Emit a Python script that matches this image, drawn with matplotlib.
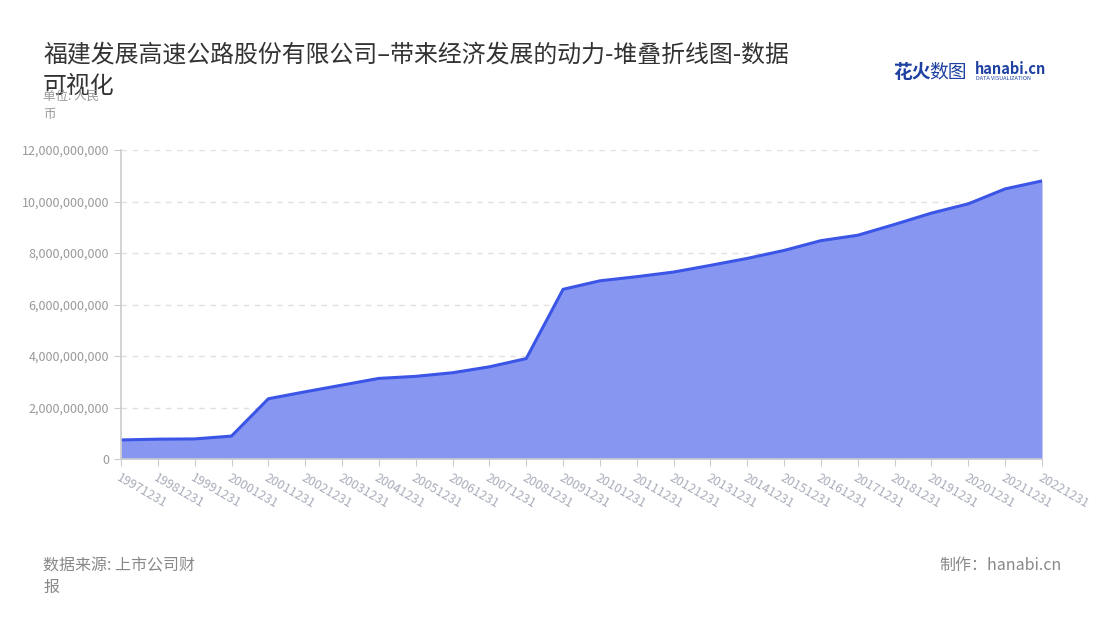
import numpy as np
import matplotlib
matplotlib.use("Agg")
import matplotlib.pyplot as plt
from matplotlib.ticker import FuncFormatter

plt.rcParams["font.family"] = ["Noto Sans CJK SC", "DejaVu Sans"]

#%% Data
dates = ["19971231", "19981231", "19991231", "20001231", "20011231", "20021231",
         "20031231", "20041231", "20051231", "20061231", "20071231", "20081231",
         "20091231", "20101231", "20111231", "20121231", "20131231", "20141231",
         "20151231", "20161231", "20171231", "20181231", "20191231", "20201231",
         "20211231", "20221231"]
values = [0.74e9, 0.77e9, 0.78e9, 0.89e9, 2.34e9, 2.61e9,
          2.87e9, 3.13e9, 3.21e9, 3.35e9, 3.58e9, 3.90e9,
          6.59e9, 6.92e9, 7.08e9, 7.26e9, 7.52e9, 7.79e9,
          8.10e9, 8.48e9, 8.69e9, 9.11e9, 9.55e9, 9.91e9,
          10.49e9, 10.80e9]
yticks = [0, 2e9, 4e9, 6e9, 8e9, 10e9, 12e9]

title = "福建发展高速公路股份有限公司–带来经济发展的动力-堆叠折线图-数据\n可视化"

#%% Figure
fig = plt.figure(figsize=(11, 6.2), dpi=100)
ax = fig.add_axes([121/1100, 1-459/620, (1042-121)/1100, (459-150)/620])

x = np.arange(len(dates))
ax.fill_between(x, values, 0, color="#8797f1", lw=0)
ax.plot(x, values, color="#3b55e6", lw=2.2, solid_joinstyle="round")

ax.set_xlim(0, len(dates) - 1)
ax.set_ylim(0, 12e9)
ax.set_yticks(yticks)
ax.yaxis.set_major_formatter(FuncFormatter(lambda v, p: f"{int(v):,}"))
ax.set_xticks(x)
ax.set_xticklabels(dates, rotation=-30, ha="left", va="top", rotation_mode="anchor")

ax.grid(axis="y", color="#e0e0e0", ls=(0, (4, 4)), lw=1)
ax.set_axisbelow(True)
for s in ["top", "right"]:
    ax.spines[s].set_visible(False)
ax.spines["left"].set_color("#cccccc")
ax.spines["bottom"].set_color("#cccccc")
ax.spines["left"].set_linewidth(1.2)
ax.spines["bottom"].set_linewidth(1.2)
ax.tick_params(axis="y", colors="#cccccc", labelcolor="#999999", labelsize=9, length=5)
ax.tick_params(axis="x", colors="#cccccc", labelcolor="#a9adba", labelsize=9, length=5, pad=4)

#%% Text
fig.text(43/1100, 1-44/620, title, fontsize=17.2, color="#333333", va="top", ha="left", linespacing=1.45)
fig.text(43/1100, 1-90/620, "单位: 人民\n币", fontsize=9, color="#999999", va="top", ha="left", linespacing=1.5)
fig.text(43/1100, 1-557/620, "数据来源: 上市公司财\n报", fontsize=11.5, color="#888888", va="top", ha="left", linespacing=1.4)
fig.text(1062/1100, 1-557/620, "制作：hanabi.cn", fontsize=11.5, color="#888888", va="top", ha="right")

# logo
fig.text(893/1100, 1-72/620, "花火", fontsize=13.5, color="#1e40a0", weight="bold", va="center", ha="left")
fig.text(929/1100, 1-72/620, "数图", fontsize=13.5, color="#1e40a0", va="center", ha="left")
fig.text(975/1100, 1-69/620, "hanabi.cn", fontsize=10.5, color="#1e40a0", weight="bold", va="center", ha="left")
fig.text(976/1100, 1-79/620, "DATA VISUALIZATION", fontsize=4, color="#1e40a0", va="center", ha="left")

fig.savefig("out.png", dpi=100)
